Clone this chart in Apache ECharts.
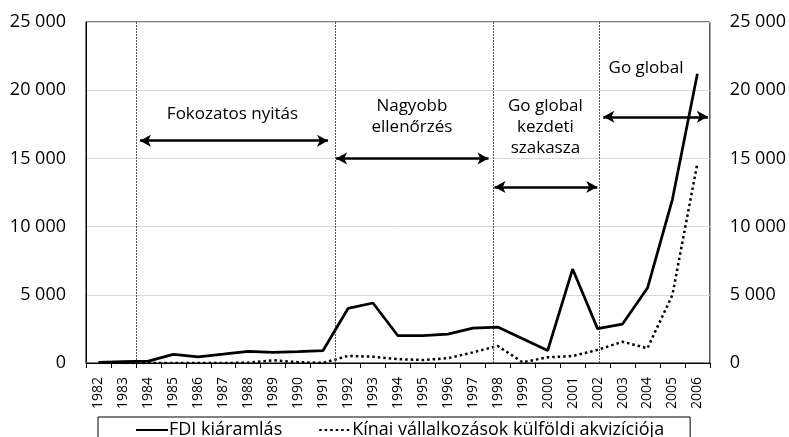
<!DOCTYPE html>
<html>
<head>
<meta charset="utf-8">
<script src="https://cdn.jsdelivr.net/npm/echarts@6/dist/echarts.min.js"></script>
<style>
  html, body { margin: 0; padding: 0; background: #fff; }
  #chart { width: 789px; height: 437px; }
</style>
</head>
<body>
<div id="chart"></div>
<script>
const years = ['1982', '1983', '1984', '1985', '1986', '1987', '1988', '1989', '1990', '1991',
  '1992', '1993', '1994', '1995', '1996', '1997', '1998', '1999', '2000', '2001',
  '2002', '2003', '2004', '2005', '2006'];
// FDI kiáramlás (millió USD)
const fdiOutflow = [44, 93, 134, 629, 450, 645, 850, 780, 830, 913,
  4000, 4400, 2000, 2000, 2114, 2562, 2634, 1775, 916, 6885,
  2518, 2855, 5498, 12000, 21200];
// Kínai vállalkozások külföldi akvizíciója
const acquisitions = [0, 0, 0, 0, 0, 0, 20, 200, 60, 5,
  520, 460, 280, 220, 350, 780, 1250, 50, 420, 510,
  960, 1560, 1080, 5000, 14650];
const yTicks = [0, 5000, 10000, 15000, 20000, 25000];

// period boundaries, in category units (0 = left edge of 1982, 25 = right edge of 2006)
const periodLines = [2, 10, 16.3, 20.55];
// double arrows: [from, to, level]
const periodArrows = [
  [2.16, 9.7, 16300],
  [10.02, 16.13, 15000],
  [16.37, 20.49, 12900],
  [20.73, 24.92, 18050],
];
// period names: [text, x, level]
const periodNames = [
  ['Fokozatos nyitás', 5.87, 18250],
  ['Nagyobb\nellenőrzés', 13.06, 18070],
  ['Go global\nkezdeti\nszakasza', 18.41, 17300],
  ['Go global', 22.44, 21620],
];

const font = "'Open Sans', sans-serif";
const fmt = v => String(v).replace(/\B(?=(\d{3})+(?!\d))/g, ' ');

const chart = echarts.init(document.getElementById('chart'));

const yAxisBase = {
  type: 'value',
  min: yTicks[0],
  max: yTicks[yTicks.length - 1],
  interval: 5000,
  axisTick: {show: false},
  axisLabel: {color: '#000', fontSize: 18, fontFamily: font, formatter: fmt, margin: 20},
};

chart.setOption({
  animation: false,
  grid: {left: 86, right: 77, top: 22, bottom: 74, show: true, borderColor: '#000', borderWidth: 1},
  legend: {
    top: 417,
    left: 98,
    data: ['FDI kiáramlás', 'Kínai vállalkozások külföldi akvizíciója'],
    borderColor: '#000',
    borderWidth: 1,
    padding: [4, 26, 10, 37],
    itemGap: 36,
    itemWidth: 32,
    itemHeight: 10,
    itemStyle: {opacity: 0},
    textStyle: {color: '#000', fontSize: 18, fontFamily: font, padding: [0, 0, 0, -4]},
  },
  xAxis: [{
    type: 'category',
    data: years,
    axisLine: {lineStyle: {color: '#000', width: 1}},
    axisTick: {show: true, length: 5, lineStyle: {color: '#000'}},
    axisLabel: {color: '#000', fontSize: 14, fontFamily: font, rotate: 90, interval: 0, margin: 14},
  }, {
    type: 'value',
    min: 0,
    max: 25,
    show: false,
  }],
  yAxis: [
    Object.assign({}, yAxisBase, {
      position: 'left',
      axisLine: {show: true, lineStyle: {color: '#000'}},
      splitLine: {lineStyle: {color: '#d9d9d9', width: 1}},
    }),
    Object.assign({}, yAxisBase, {
      position: 'right',
      axisLine: {show: false},
      splitLine: {show: false},
    }),
  ],
  series: [
    {
      name: 'FDI kiáramlás',
      type: 'line',
      data: fdiOutflow,
      symbol: 'none',
      color: '#000',
      lineStyle: {color: '#000', width: 2.75},
      z: 5,
    },
    {
      name: 'Kínai vállalkozások külföldi akvizíciója',
      type: 'line',
      data: acquisitions,
      symbol: 'none',
      color: '#000',
      lineStyle: {color: '#000', width: 2.5, type: [2.5, 3]},
      z: 4,
    },
    {
      name: 'periods',
      type: 'line',
      xAxisIndex: 1,
      data: [],
      silent: true,
      z: 3,
      markLine: {
        silent: true,
        animation: false,
        symbol: ['none', 'none'],
        label: {show: false},
        data: [
          ...periodLines.map(x => ({
            xAxis: x,
            lineStyle: {color: '#555', width: 1, type: [2, 1]},
          })),
          ...periodArrows.map(([a, b, y]) => [
            {coord: [a, y], symbol: 'arrow', symbolSize: [9, 11],
              lineStyle: {color: '#000', width: 2.5, type: 'solid'}},
            {coord: [b, y], symbol: 'arrow', symbolSize: [9, 11]},
          ]),
        ],
      },
      markPoint: {
        silent: true,
        animation: false,
        symbol: 'circle',
        symbolSize: 0,
        data: periodNames.map(([text, x, y]) => ({
          coord: [x, y],
          label: {
            show: true,
            position: 'inside',
            formatter: text,
            color: '#000',
            fontSize: 17,
            lineHeight: 21,
            fontFamily: font,
            align: 'center',
            verticalAlign: 'middle',
          },
        })),
      },
    },
  ],
});
</script>
</body>
</html>
